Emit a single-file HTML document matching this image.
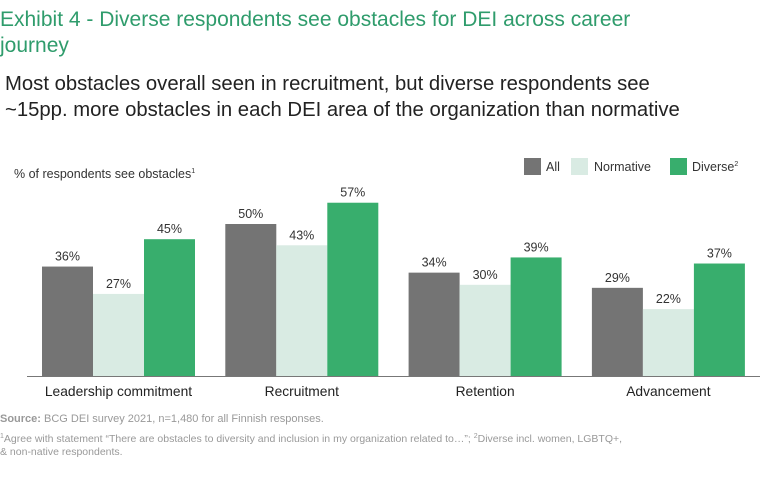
<!DOCTYPE html>
<html><head><meta charset="utf-8"><style>
body{margin:0;width:768px;height:478px;background:#fff;overflow:hidden;font-family:"Liberation Sans",sans-serif}
svg{position:absolute;left:0;top:0}
</style></head><body>
<svg width="768" height="478">
<text x="0" y="26" font-size="21" fill="#2f9c6c">Exhibit 4 - Diverse respondents see obstacles for DEI across career</text>
<text x="0" y="52" font-size="21" fill="#2f9c6c">journey</text>
<text x="5" y="90" font-size="20.3" fill="#222">Most obstacles overall seen in recruitment, but diverse respondents see</text>
<text x="5" y="116" font-size="20.3" fill="#222">~15pp. more obstacles in each DEI area of the organization than normative</text>
<text x="14" y="178" font-size="12.5" fill="#333">% of respondents see obstacles<tspan font-size="7" dy="-5">1</tspan></text>
<g>
<rect x="524" y="158" width="17" height="17" fill="#747474"/>
<text x="546" y="171" font-size="12.5" fill="#333">All</text>
<rect x="571" y="158" width="17" height="17" fill="#d9ebe3"/>
<text x="594" y="171" font-size="12.5" fill="#333">Normative</text>
<rect x="670" y="158" width="17" height="17" fill="#38ae6d"/>
<text x="692" y="171" font-size="12.5" fill="#333">Diverse<tspan font-size="7" dy="-5">2</tspan></text>
</g>
<g id="bars"></g>
<line x1="27" y1="376.5" x2="760" y2="376.5" stroke="#777" stroke-width="1"/>
<text x="0" y="422" font-size="11" fill="#999"><tspan font-weight="bold">Source:</tspan> BCG DEI survey 2021, n=1,480 for all Finnish responses.</text>
<text x="0" y="442" font-size="10.5" fill="#999"><tspan font-size="7" dy="-4">1</tspan><tspan dy="4">Agree with statement “There are obstacles to diversity and inclusion in my organization related to…”; </tspan><tspan font-size="7" dy="-4">2</tspan><tspan dy="4">Diverse incl. women, LGBTQ+,</tspan></text>
<text x="0" y="455" font-size="10.5" fill="#999">&amp; non-native respondents.</text>
</svg>
<script>
const categories=["Leadership commitment","Recruitment","Retention","Advancement"];
const allValues=[36,50,34,29];
const normativeValues=[27,43,30,22];
const diverseValues=[45,57,39,37];
const series=[["all",allValues,"#747474"],["normative",normativeValues,"#d9ebe3"],["diverse",diverseValues,"#38ae6d"]];
const baseY=376,pxPer=3.04,barW=51,g0=42,gStep=183.3;
const yScale=v=>baseY-v*pxPer;
const xScale=(ci,si)=>g0+ci*gStep+si*barW;
const NS="http://www.w3.org/2000/svg";
const g=document.getElementById('bars');
categories.forEach((c,ci)=>{
  series.forEach(([name,vals,col],si)=>{
    const v=vals[ci],x=xScale(ci,si),y=yScale(v);
    const r=document.createElementNS(NS,'rect');
    r.setAttribute('x',x);r.setAttribute('y',y);r.setAttribute('width',barW);r.setAttribute('height',baseY-y);r.setAttribute('fill',col);
    
    
    g.appendChild(r);
    const t=document.createElementNS(NS,'text');
    t.setAttribute('x',x+barW/2);t.setAttribute('y',y-6);t.setAttribute('text-anchor','middle');t.setAttribute('font-size','12.5');t.setAttribute('fill','#333');
    t.textContent=v+'%';
    
    
    g.appendChild(t);
  });
  const l=document.createElementNS(NS,'text');
  l.setAttribute('x',xScale(ci,1)+barW/2);l.setAttribute('y',396);l.setAttribute('text-anchor','middle');l.setAttribute('font-size','13.8');l.setAttribute('fill','#222');
  l.textContent=c;
  
  
  g.appendChild(l);
});
</script>
</body></html>
